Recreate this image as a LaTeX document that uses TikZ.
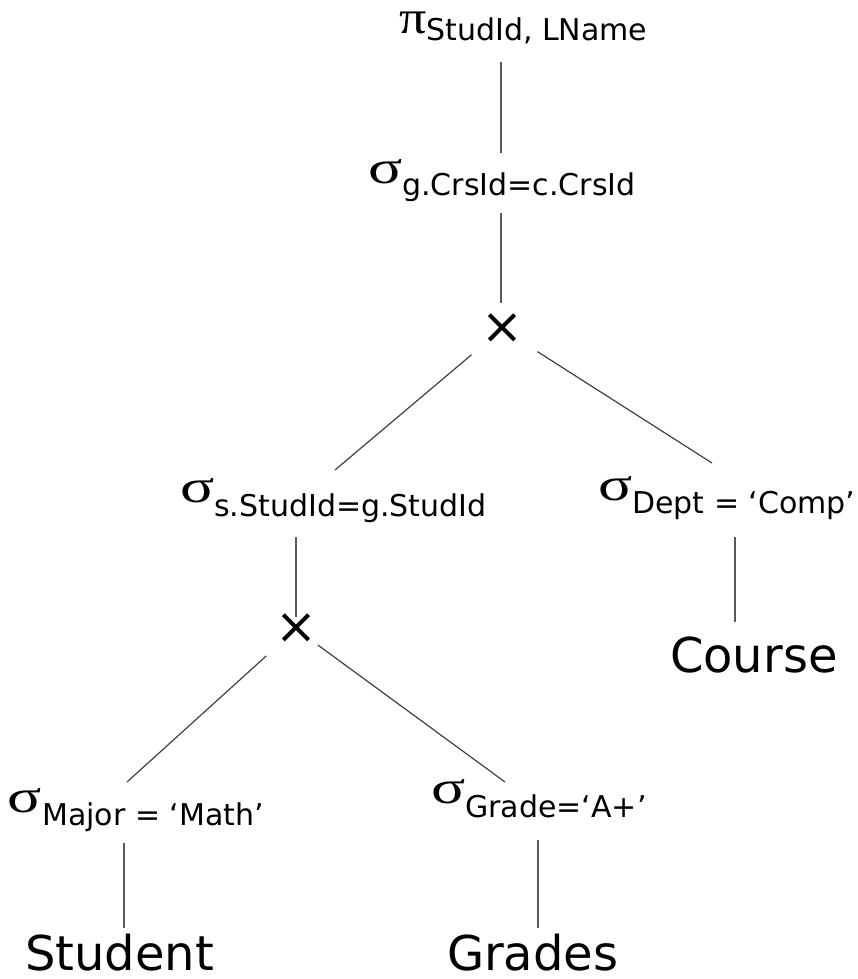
\documentclass[tikz,border=0pt]{standalone}
\usepackage{fontspec}
\setmainfont{DejaVu Sans}
\newfontfamily\greekfont{Liberation Serif}

% operator symbol followed by its lowered condition text
\newcommand{\opsym}[4]{\scalebox{#2}[1]{\greekfont\fontsize{47}{48}\selectfont #1}\lower#3pt\hbox{\fontsize{30}{31}\selectfont #4}}

\tikzset{
  op/.style={anchor=base west, inner sep=0pt, outer sep=0pt},
  rel/.style={anchor=base west, inner sep=0pt, outer sep=0pt,
              font=\fontsize{48}{52}\selectfont},
  prod/.style={inner sep=0pt, outer sep=0pt, font=\fontsize{50}{52}\selectfont},
  edge/.style={draw=black!65, line width=1.7pt},
  diag/.style={draw=black!75, line width=1.2pt},
}

\begin{document}
\begin{tikzpicture}[x=1pt, y=-1pt]
  \useasboundingbox (0,0) rectangle (857,979);

  % operators and relations
  \node[op]   (proj)    at (399,34)  {\opsym{π}{1.15}{7}{StudId, LName}};
  \node[op]   (selc)    at (368,183) {\opsym{σ}{1.35}{12}{g.CrsId=c.CrsId}};
  \node[prod] (xtop)    at (502,329) {×};
  \node[op]   (sels)    at (180,502) {\opsym{σ}{1.35}{14}{s.StudId=g.StudId}};
  \node[op]   (seld)    at (598,500) {\opsym{σ}{1.35}{13}{Dept = ‘Comp’}};
  \node[prod] (xbot)    at (296,629) {×};
  \node[rel]  (course)  at (670,672) {Course};
  \node[op]   (selm)    at (8,812)   {\opsym{σ}{1.35}{13}{Major = ‘Math’}};
  \node[op]   (selg)    at (431,803) {\opsym{σ}{1.35}{14}{Grade=‘A+’}};
  \node[rel]  (student) at (25,970)  {Student};
  \node[rel]  (grades)  at (447,970) {Grades};

  % attachment points of the tree edges
  \coordinate (proj-out)    at (501,62);
  \coordinate (selc-in)     at (501,153);
  \coordinate (selc-out)    at (501,213);
  \coordinate (xtop-in)     at (501,303);
  \coordinate (sels-in)     at (335,470);
  \coordinate (seld-in)     at (712,463);
  \coordinate (sels-out)    at (296,537);
  \coordinate (xbot-in)     at (296,617);
  \coordinate (seld-out)    at (735,537);
  \coordinate (course-in)   at (735,622);
  \coordinate (selm-in)     at (127,782);
  \coordinate (selg-in)     at (505,782);
  \coordinate (selm-out)    at (124,843);
  \coordinate (student-in)  at (124,928);
  \coordinate (selg-out)    at (538,840);
  \coordinate (grades-in)   at (538,928);

  % edges
  \draw[edge] (proj-out) -- (selc-in);
  \draw[edge] (selc-out) -- (xtop-in);
  \draw[diag, shorten <=40pt] (xtop.center) -- (sels-in);
  \draw[diag, shorten <=42pt] (xtop.center) -- (seld-in);
  \draw[edge] (sels-out) -- (xbot-in);
  \draw[edge] (seld-out) -- (course-in);
  \draw[diag, shorten <=40pt] (xbot.center) -- (selm-in);
  \draw[diag, shorten <=27pt] (xbot.center) -- (selg-in);
  \draw[edge] (selm-out) -- (student-in);
  \draw[edge] (selg-out) -- (grades-in);
\end{tikzpicture}
\end{document}
